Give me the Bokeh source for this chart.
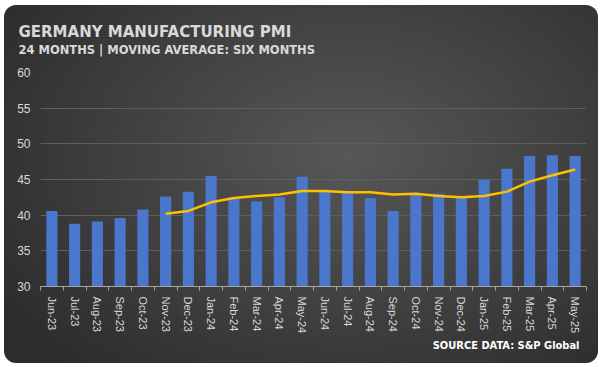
from bokeh.plotting import figure
from bokeh.models import Range1d, FixedTicker, Title, ColumnDataSource
from bokeh.embed import file_html
from bokeh.resources import INLINE

months = ["Jun-23", "Jul-23", "Aug-23", "Sep-23", "Oct-23", "Nov-23", "Dec-23",
          "Jan-24", "Feb-24", "Mar-24", "Apr-24", "May-24", "Jun-24", "Jul-24",
          "Aug-24", "Sep-24", "Oct-24", "Nov-24", "Dec-24", "Jan-25", "Feb-25",
          "Mar-25", "Apr-25", "May-25"]
pmi = [40.6, 38.8, 39.1, 39.6, 40.8, 42.6, 43.3, 45.5, 42.5, 41.9, 42.5, 45.4,
       43.5, 43.2, 42.4, 40.6, 43.0, 43.0, 42.5, 45.0, 46.5, 48.3, 48.4, 48.3]
ma_months = months[5:]
ma_values = [40.2, 40.6, 41.8, 42.4, 42.7, 42.9, 43.4, 43.4, 43.2, 43.2, 42.9,
             43.0, 42.7, 42.5, 42.7, 43.3, 44.7, 45.6, 46.4]
y_ticks = [30, 35, 40, 45, 50, 55, 60]

title_text = "GERMANY MANUFACTURING PMI"
subtitle_text = "24 MONTHS | MOVING AVERAGE: SIX MONTHS"
source_text = "SOURCE DATA: S&P Global"

idx = list(range(len(months)))
ma_idx = [months.index(m) for m in ma_months]

p = figure(width=594, height=358, output_backend="svg", toolbar_location=None,
           x_range=Range1d(-0.5, len(months) - 0.5), y_range=Range1d(y_ticks[0], y_ticks[-1]),
           min_border_left=36, min_border_right=12, min_border_top=67, min_border_bottom=77)
p.background_fill_alpha = 0
p.border_fill_alpha = 0
p.outline_line_color = None
p.styles = {"background": "radial-gradient(ellipse 70% 80% at 58% 42%, #575757 0%, #444444 45%, #2c2c2c 100%)",
            "border-radius": "12px", "margin": "5px 0px 0px 4px"}

src = ColumnDataSource(dict(x=idx, top=pmi))
p.vbar(x="x", top="top", bottom=0, width=0.49, source=src,
       fill_color="#4a76cc", line_color=None)
p.line(x=ma_idx, y=ma_values, line_color="#ffc000", line_width=2.5)

# axes
xa = p.xaxis[0]
xa.ticker = FixedTicker(ticks=idx, minor_ticks=[i - 0.5 for i in range(len(months) + 1)])
xa.major_label_overrides = {i: m for i, m in enumerate(months)}
xa.major_label_orientation = "vertical"
xa.major_tick_line_color = None
xa.major_tick_out = 0
xa.major_tick_in = 0
xa.minor_tick_line_color = "#a6a6a6"
xa.minor_tick_out = 4
xa.minor_tick_in = 0
xa.axis_line_color = "#a6a6a6"
xa.major_label_text_color = "#d9d9d9"
xa.major_label_text_font = "Liberation Sans"
xa.major_label_text_font_size = "11px"
xa.major_label_standoff = 6

ya = p.yaxis[0]
ya.ticker = FixedTicker(ticks=y_ticks)
ya.axis_line_color = None
ya.major_tick_line_color = None
ya.minor_tick_line_color = None
ya.major_tick_out = 0
ya.major_label_standoff = 10
ya.major_label_text_color = "#d9d9d9"
ya.major_label_text_font = "Liberation Sans"
ya.major_label_text_font_size = "12px"

p.xgrid.grid_line_color = None
p.ygrid.grid_line_color = "#5e5e5e"
p.ygrid.grid_line_width = 1

# main title (outermost)
p.title.text = title_text
p.title.align = "left"
p.title.offset = -22
p.title.text_font = "DejaVu Sans"
p.title.text_font_size = "15px"
p.title.text_font_style = "bold"
p.title.text_color = "#d9d9d9"
p.title.standoff = 0

# invisible spacer (first added sits closest to the frame), then subtitle
p.add_layout(Title(text=".", text_alpha=0.01, text_color="#444444", text_font_size="8px",
                   standoff=9), "above")
p.add_layout(Title(text=subtitle_text, align="left", offset=-22, text_font="DejaVu Sans",
                   text_font_size="11.5px", text_font_style="bold", text_color="#d9d9d9",
                   standoff=0), "above")

p.add_layout(Title(text=source_text, align="right", offset=7,
                   text_font="DejaVu Sans Condensed", text_font_size="11px",
                   text_font_style="bold", text_color="#ffffff", standoff=0), "below")

open("out.html", "w").write(file_html(p, INLINE))
